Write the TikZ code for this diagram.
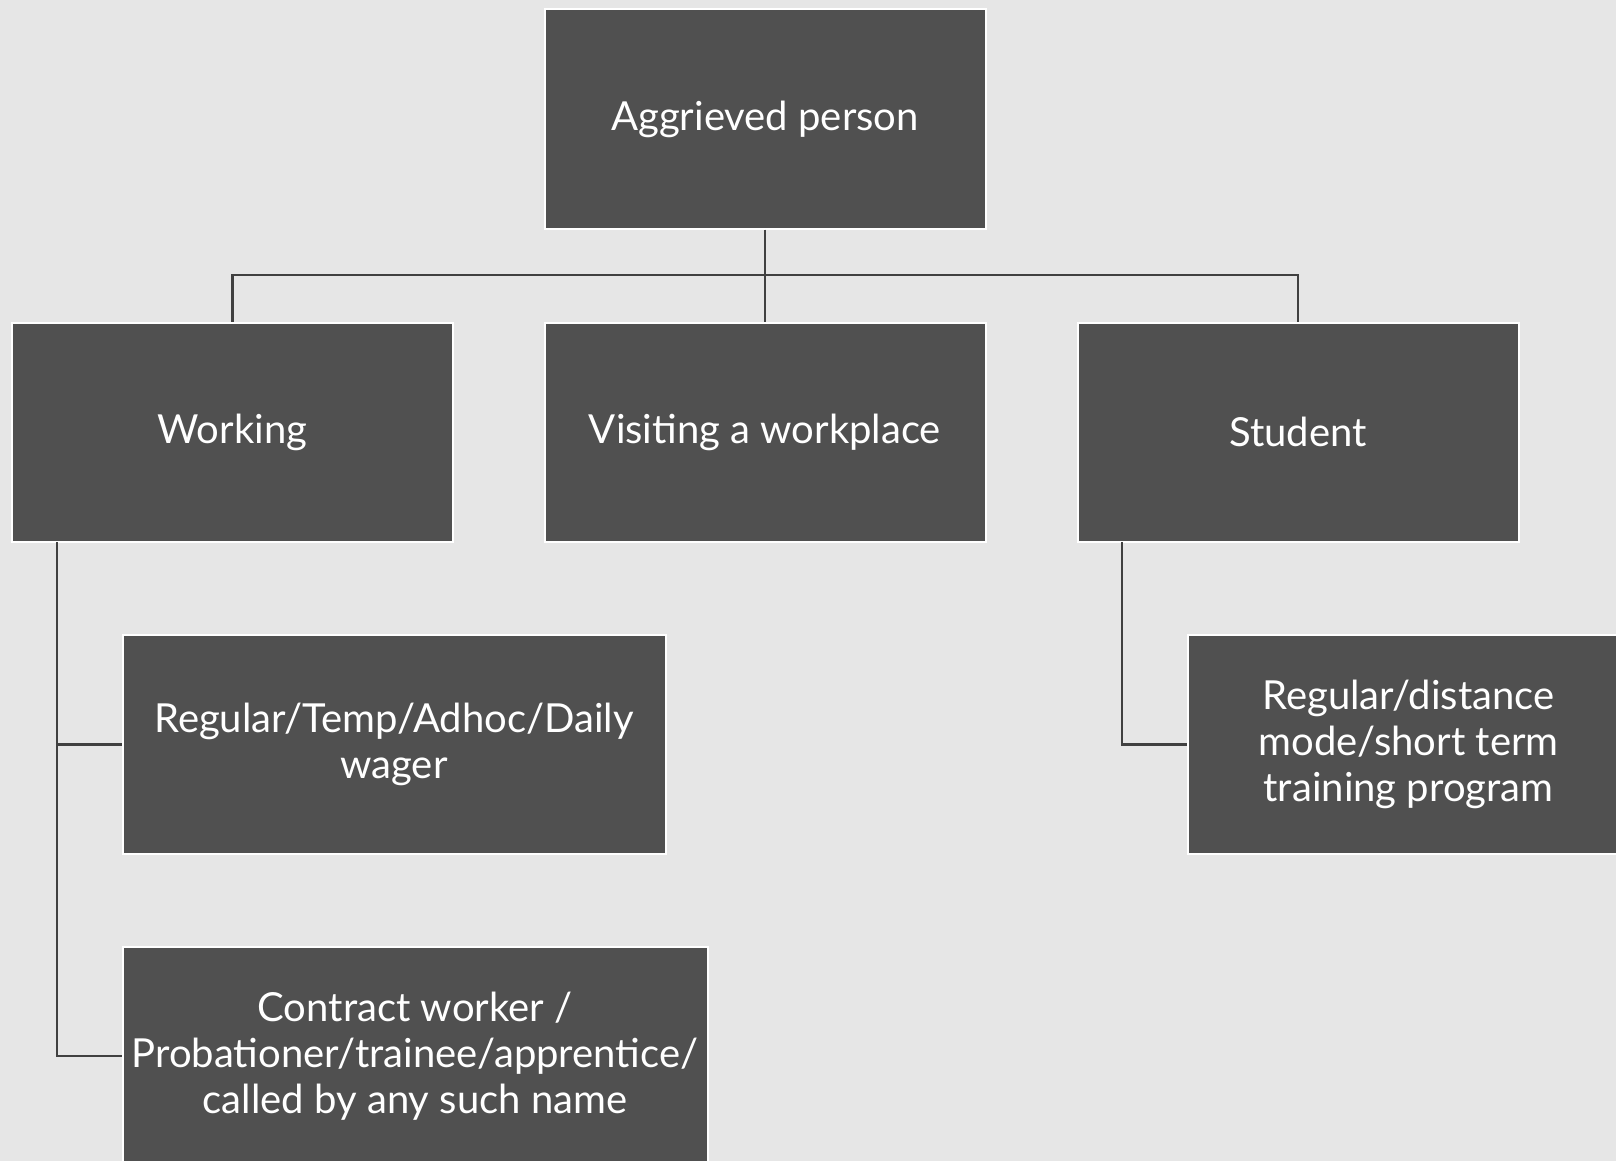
\documentclass[tikz,border=0pt]{standalone}
\usepackage{fontspec,tikz}
\setmainfont{Lato}
\definecolor{backgrey}{RGB}{230,230,230}
\definecolor{boxgrey}{RGB}{80,80,80}
\definecolor{linegrey}{RGB}{64,64,64}
\tikzset{
	box/.style={draw=white, line width=2pt, fill=boxgrey, text=white, align=center, inner sep=0pt,
		minimum width=441pt, minimum height=219pt, font=\fontsize{40}{46}\selectfont},
	link/.style={draw=linegrey, line width=2.8pt}
}
\begin{document}
\begin{tikzpicture}[x=1pt,y=-1pt]
			\fill[backgrey] (0,0) rectangle (1616,1161);
			\useasboundingbox (0,0) rectangle (1616,1161);
			\node[box] (root) at (765,119) {Aggrieved person};
			\node[box] (work) at (232.5,432) {Working};
			\node[box] (visit) at (765,432) {Visiting a workplace};
			\node[box] (student) at (1298,432) {Student};
			\node[box, minimum width=543pt] (wage) at (394,744.5) {Regular/Temp/Adhoc/Daily\\wager};
			\node[box, minimum width=585pt] (contract) at (415,1056) {Contract worker /\\Probationer/trainee/apprentice/\\called by any such name};
			\node[box] (program) at (1408.5,744.5) {Regular/distance\\mode/short term\\training program};
			\coordinate (bar) at (765,275);
			\coordinate (wtrunk) at (57,542);
			\coordinate (strunk) at (1122,542);
			\draw[link] (root.south) -- (visit.north);
			\draw[link] (work.north) |- (bar) -| (student.north);
			\draw[link] (wtrunk) |- (wage.west);
			\draw[link] (wtrunk) |- (contract.west);
			\draw[link] (strunk) |- (program.west);
			\end{tikzpicture}
\end{document}
